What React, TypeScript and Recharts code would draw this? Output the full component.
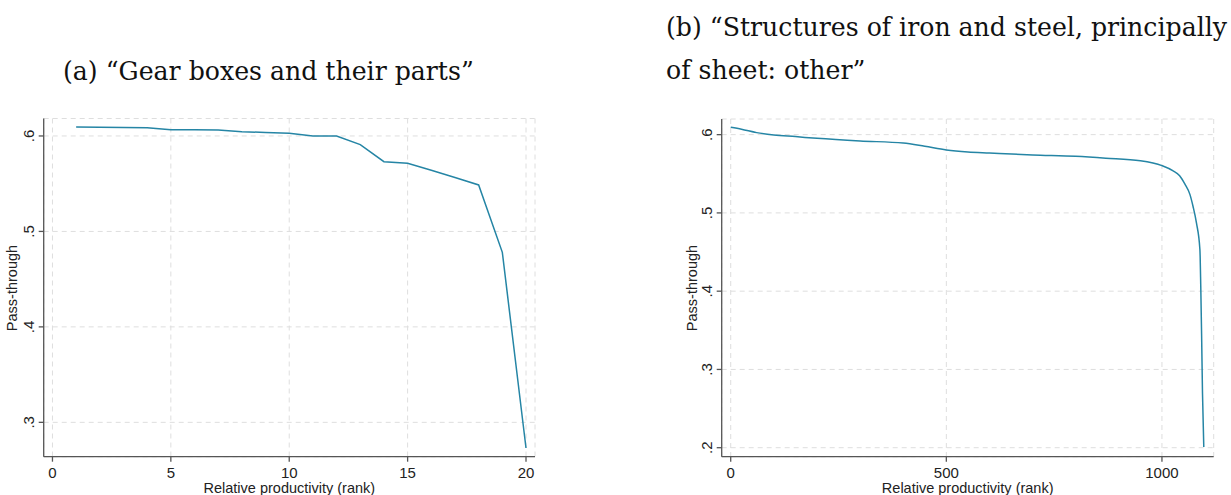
import React from 'react';
import { LineChart, Line, XAxis, YAxis, CartesianGrid } from 'recharts';

// panel (a): rank 1..20
const gearRank = [1, 2, 3, 4, 5, 6, 7, 8, 9, 10, 11, 12, 13, 14, 15, 16, 17, 18, 19, 20];
const gearPass = [
  0.6094, 0.6092, 0.609, 0.6087, 0.6066, 0.6064, 0.6062, 0.6045, 0.6037, 0.6028,
  0.6, 0.6, 0.5909, 0.5731, 0.5714, 0.564, 0.5565, 0.5487, 0.4781, 0.2731,
];

// panel (b): sampled along the curve
const steelRank = [
  0, 25, 60, 100, 150, 200, 300, 400, 450, 500, 550, 600, 700, 800, 870, 950, 1000,
  1025, 1041, 1053, 1065, 1072, 1080, 1088, 1090, 1092, 1094, 1097,
];
const steelPass = [
  0.6095, 0.607, 0.6026, 0.5996, 0.5975, 0.5953, 0.5919, 0.5893, 0.5851, 0.5804, 0.5778,
  0.5765, 0.574, 0.5723, 0.57, 0.5667, 0.5604, 0.554, 0.5475, 0.537, 0.5234, 0.5085,
  0.4872, 0.4532, 0.4064, 0.3426, 0.2702, 0.2009,
];

const gearTicksX = [0, 5, 10, 15, 20];
const gearTicksY = [0.3, 0.4, 0.5, 0.6];
const steelTicksX = [0, 500, 1000];
const steelTicksY = [0.2, 0.3, 0.4, 0.5, 0.6];

const gearData = gearRank.map((r, i) => ({ rank: r, pass: gearPass[i] }));
const steelData = steelRank.map((r, i) => ({ rank: r, pass: steelPass[i] }));

const LINE = '#2585a5';
const AXIS = '#555';
const GRID = '#dedede';
const SANS = '"Liberation Sans", Arial, sans-serif';

const fmt = (v: number) => v.toFixed(1).replace(/^0/, '');

const YTick = (props: any) => {
  const { x, y, payload } = props;
  const cx = x - 8;
  return (
    <text
      x={cx}
      y={y}
      transform={`rotate(-90 ${cx} ${y})`}
      textAnchor="middle"
      dominantBaseline="central"
      fontSize={15}
      fontFamily={SANS}
      fill="#222"
    >
      {fmt(payload.value)}
    </text>
  );
};

const XTick = (props: any) => {
  const { x, y, payload } = props;
  return (
    <text x={x} y={y + 9} textAnchor="middle" dominantBaseline="central" fontSize={15} fontFamily={SANS} fill="#222">
      {payload.value}
    </text>
  );
};

type PanelProps = {
  data: { rank: number; pass: number }[];
  left: number;
  width: number;
  yAxisWidth: number;
  right: number;
  top: number;
  xDomain: [number, number];
  yDomain: [number, number];
  xTicks: number[];
  yTicks: number[];
  curve: 'linear' | 'monotone';
};

const Panel = ({ data, left, width, yAxisWidth, right, top, xDomain, yDomain, xTicks, yTicks, curve }: PanelProps) => (
  <div style={{ position: 'absolute', left, top: 100, width, height: 395 }}>
    <LineChart width={width} height={395} data={data} margin={{ top, right, left: 0, bottom: 0 }}>
      <CartesianGrid stroke={GRID} strokeDasharray="5 4" />
      <XAxis
        dataKey="rank"
        type="number"
        domain={xDomain}
        ticks={xTicks}
        allowDataOverflow
        height={38.3}
        stroke={AXIS}
        strokeWidth={1.3}
        tickSize={5}
        tickLine={{ stroke: AXIS }}
        tick={<XTick />}
        label={{ value: 'Relative productivity (rank)', position: 'insideBottom', offset: 2, fontSize: 14.5, fontFamily: SANS, fill: '#222' }}
      />
      <YAxis
        type="number"
        domain={yDomain}
        ticks={yTicks}
        allowDataOverflow
        width={yAxisWidth}
        stroke={AXIS}
        strokeWidth={1.3}
        tickSize={5}
        tick={<YTick />}
      />
      <Line
        type={curve}
        dataKey="pass"
        stroke={LINE}
        strokeWidth={1.5}
        dot={false}
        isAnimationActive={false}
      />
    </LineChart>
  </div>
);

const titleStyle: React.CSSProperties = {
  position: 'absolute',
  fontFamily: '"DejaVu Serif", "Liberation Serif", serif',
  fontSize: 25.2,
  color: '#111',
  whiteSpace: 'nowrap',
  lineHeight: '43px',
};

const yLabel = (left: number): React.CSSProperties => ({
  position: 'absolute',
  left,
  top: 288,
  transform: 'translate(-50%, -50%) rotate(-90deg)',
  fontFamily: SANS,
  fontSize: 14.5,
  color: '#222',
  whiteSpace: 'nowrap',
});

export default function App() {
  return (
    <div style={{ position: 'absolute', left: 0, top: 0, width: 1231, height: 495, background: '#fff', overflow: 'hidden' }}>
      <div style={{ ...titleStyle, left: 63, top: 50 }}>(a) “Gear boxes and their parts”</div>
      <div style={{ ...titleStyle, left: 666, top: 6 }}>
        (b) “Structures of iron and steel, principally
        <br />
        of sheet: other”
      </div>

      <Panel
        data={gearData}
        left={0}
        width={560}
        yAxisWidth={43.7}
        right={25}
        top={18.5}
        xDomain={[-0.37, 20.38]}
        yDomain={[0.264, 0.6183]}
        xTicks={gearTicksX}
        yTicks={gearTicksY}
        curve="linear"
      />
      <Panel
        data={steelData}
        left={660}
        width={571}
        yAxisWidth={61.7}
        right={17.3}
        top={19}
        xDomain={[-20.9, 1120]}
        yDomain={[0.1885, 0.62]}
        xTicks={steelTicksX}
        yTicks={steelTicksY}
        curve="monotone"
      />

      <div style={yLabel(12)}>Pass-through</div>
      <div style={yLabel(692)}>Pass-through</div>
    </div>
  );
}
